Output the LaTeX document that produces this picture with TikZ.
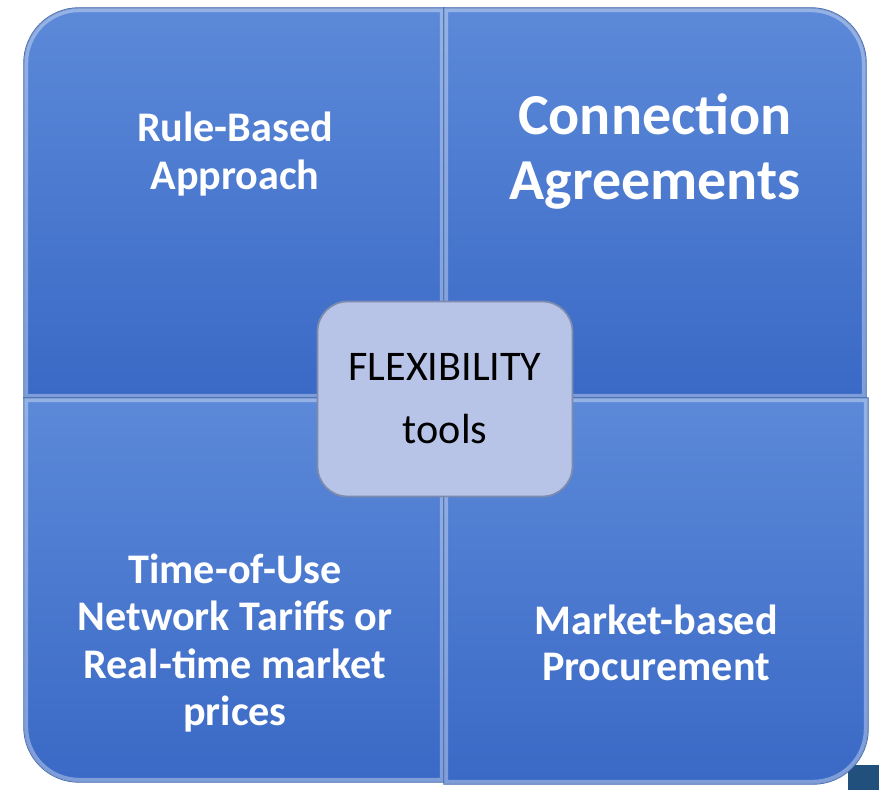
\documentclass[tikz,border=0pt]{standalone}
\usepackage{fontspec}
\setmainfont{Carlito}
\usetikzlibrary{positioning}
\definecolor{quadtop}{HTML}{5C89D8}
\definecolor{quadbot}{HTML}{3A69C6}
\definecolor{quadedge}{HTML}{2E5AA8}
\definecolor{flexfill}{HTML}{B7C4E8}
\definecolor{flexedge}{HTML}{7D8BAF}
\definecolor{cornerbox}{HTML}{22507C}

\begin{document}
\begin{tikzpicture}[x=0.02cm, y=0.02cm,
		quad/.style={top color=quadtop, bottom color=quadbot, draw=quadedge, line width=0.8pt},
		bevel/.style={draw=white, draw opacity=0.35, line width=2.5pt},
		quadtext/.style={text=white, font=\bfseries\fontsize{24}{27}\selectfont, align=center},
		flexbox/.style={draw=flexedge, fill=flexfill, line width=1pt, rounded corners=0.6cm, minimum width=5.1cm, minimum height=3.9cm, align=center, font=\fontsize{24}{36}\selectfont}]
		\useasboundingbox (0,0) rectangle (879,790);
		\fill[cornerbox] (848,0) rectangle (879,25);
		% the four panels
		\shadedraw[quad] (24,392) -- (24,727) arc[start angle=180, end angle=90, radius=1.1cm] -- (444,782) -- (444,392) -- cycle;
		\draw[bevel] (26,394) -- (26,727) arc[start angle=180, end angle=90, radius=1.06cm] -- (442,780) -- (442,394) -- cycle;
		\shadedraw[quad] (444,392) -- (444,782) -- (811,782) arc[start angle=90, end angle=0, radius=1.1cm] -- (866,392) -- cycle;
		\draw[bevel] (446,394) -- (446,780) -- (811,780) arc[start angle=90, end angle=0, radius=1.06cm] -- (864,394) -- cycle;
		\shadedraw[quad] (24,392) -- (24,63) arc[start angle=180, end angle=270, radius=1.1cm] -- (444,8) -- (444,392) -- cycle;
		\draw[bevel] (26,390) -- (26,63) arc[start angle=180, end angle=270, radius=1.06cm] -- (442,10) -- (442,390) -- cycle;
		\shadedraw[quad] (444,392) -- (444,6) -- (813,6) arc[start angle=270, end angle=360, radius=1.1cm] -- (868,392) -- cycle;
		\draw[bevel] (446,390) -- (446,8) -- (813,8) arc[start angle=270, end angle=360, radius=1.06cm] -- (866,390) -- cycle;
		% labels
		\node[quadtext] (rule) at (235,636) {Rule-Based\\Approach};
		\node[quadtext, font=\bfseries\fontsize{33}{37}\selectfont] (conn) at (655,638) {Connection\\Agreements};
		\node[quadtext] (tou) at (235,147) {Time-of-Use\\Network Tariffs or\\Real-time market\\prices};
		\node[quadtext, font=\bfseries\fontsize{24}{26}\selectfont] (market) at (656,147) {Market-based\\Procurement};
		\node[flexbox] (flex) at (445,391) {FLEXIBILITY\\tools};
	\end{tikzpicture}
\end{document}
